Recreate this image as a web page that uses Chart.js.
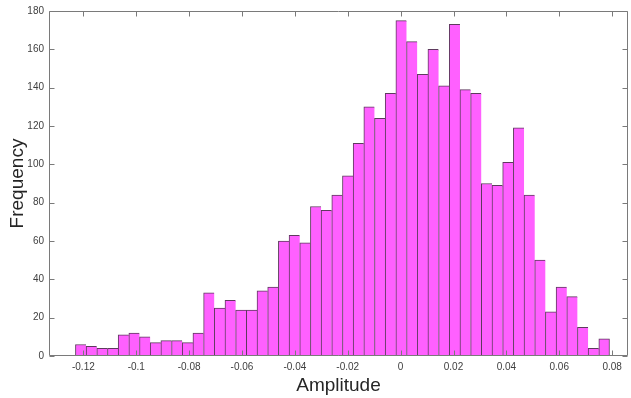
<!DOCTYPE html>
<html>
<head>
<meta charset="utf-8">
<script src="https://cdn.jsdelivr.net/npm/chart.js@4.4.1/dist/chart.umd.min.js"></script>
<style>
  html, body { margin: 0; padding: 0; background: #fff; }
  #wrap { width: 631px; height: 398px; position: relative; }
</style>
</head>
<body>
<div id="wrap"><canvas id="histChart"></canvas></div>
<script>
// Histogram counts, left to right (50 bins)
const counts = [6, 5, 4, 4, 11, 12, 10, 7, 8, 8,
  7, 12, 33, 25, 29, 24, 24, 34, 36, 60,
  63, 59, 78, 76, 84, 94, 111, 130, 124, 137,
  175, 164, 147, 160, 141, 173, 139, 137, 90, 89,
  101, 119, 84, 50, 23, 36, 31, 15, 4, 9];

// first bin edge and bin width
const binStart = -0.1230;
const binWidth = 0.00404;
const binCenters = counts.map((c, i) => binStart + binWidth * (i + 0.5));

const xTicks = [-0.12, -0.1, -0.08, -0.06, -0.04, -0.02, 0, 0.02, 0.04, 0.06, 0.08];
const yTicks = [0, 20, 40, 60, 80, 100, 120, 140, 160, 180];

const axisColor = '#7a7a7a';

// box round the plot area with inward ticks on all four sides (MATLAB style)
const boxPlugin = {
  id: 'boxTicks',
  afterDatasetsDraw(chart) {
    const { ctx, chartArea: a, scales } = chart;
    const len = 5;
    const l = Math.round(a.left) + 0.5, r = Math.round(a.right) - 0.5;
    const t = Math.round(a.top) + 0.5, b = Math.round(a.bottom) - 0.5;
    ctx.save();
    ctx.strokeStyle = axisColor;
    ctx.lineWidth = 1;
    ctx.beginPath();
    xTicks.forEach(v => {
      const x = Math.round(scales.x.getPixelForValue(v)) + 0.5;
      ctx.moveTo(x, b); ctx.lineTo(x, b - len);
      ctx.moveTo(x, t); ctx.lineTo(x, t + len);
    });
    yTicks.forEach(v => {
      const y = Math.round(scales.y.getPixelForValue(v)) + 0.5;
      ctx.moveTo(l, y); ctx.lineTo(l + len, y);
      ctx.moveTo(r, y); ctx.lineTo(r - len, y);
    });
    ctx.moveTo(l, t); ctx.lineTo(r, t); ctx.lineTo(r, b); ctx.lineTo(l, b); ctx.closePath();
    ctx.stroke();
    ctx.restore();
  }
};

const lastIdx = counts.length - 1;

new Chart(document.getElementById('histChart'), {
  type: 'bar',
  data: {
    datasets: [{
      label: 'Frequency',
      data: binCenters.map((x, i) => ({ x: x, y: counts[i] })),
      backgroundColor: '#ff60ff',
      borderColor: '#5e3a5e',
      borderWidth: ctx => ctx.dataIndex === lastIdx
        ? { left: 1, top: 1, right: 1, bottom: 0 }
        : { left: 1, top: 1, right: 0, bottom: 0 },
      borderSkipped: false,
      barPercentage: 1,
      categoryPercentage: 1,
      grouped: false
    }]
  },
  options: {
    responsive: true,
    maintainAspectRatio: false,
    animation: false,
    layout: { padding: { top: 10, right: 3, left: 0, bottom: 0 } },
    plugins: {
      legend: { display: false },
      tooltip: { enabled: false }
    },
    scales: {
      x: {
        type: 'linear',
        offset: false,
        min: -0.133,
        max: 0.086,
        afterBuildTicks: s => { s.ticks = xTicks.map(v => ({ value: v })); },
        afterFit: s => { s.height = 42; },
        grid: { display: false, drawTicks: false },
        border: { display: false },
        ticks: {
          color: '#404040',
          font: { family: 'Liberation Sans, Arial, sans-serif', size: 10 },
          padding: 5,
          maxRotation: 0,
          autoSkip: false,
          callback: v => String(v)
        },
        title: {
          display: true,
          text: 'Amplitude',
          color: '#262626',
          font: { family: 'Liberation Sans, Arial, sans-serif', size: 19 },
          padding: { top: 0, bottom: 1 }
        }
      },
      y: {
        min: 0,
        max: 180,
        afterBuildTicks: s => { s.ticks = yTicks.map(v => ({ value: v })); },
        afterFit: s => { s.width = 49; },
        grid: { display: false, drawTicks: false },
        border: { display: false },
        ticks: {
          color: '#404040',
          font: { family: 'Liberation Sans, Arial, sans-serif', size: 10 },
          padding: 5
        },
        title: {
          display: true,
          text: 'Frequency',
          color: '#262626',
          font: { family: 'Liberation Sans, Arial, sans-serif', size: 19 },
          padding: { top: 6, bottom: 0 }
        }
      }
    }
  },
  plugins: [boxPlugin]
});
</script>
</body>
</html>
